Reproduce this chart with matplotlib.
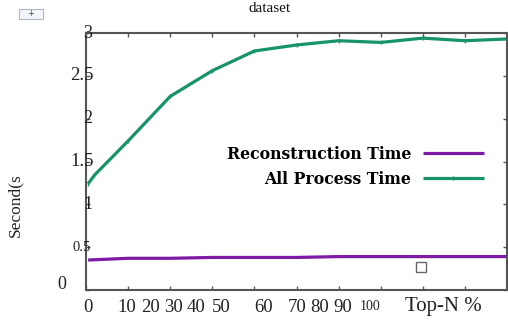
import matplotlib
matplotlib.use("Agg")
import matplotlib.pyplot as plt
from matplotlib.patches import Rectangle
import matplotlib.transforms as mtransforms

# ---- data ----
x_all = [0.5, 2, 10, 20, 30, 40, 50, 60, 70, 80, 90, 100]
all_process = [1.24, 1.34, 1.74, 2.26, 2.56, 2.79, 2.86, 2.91, 2.89, 2.94, 2.91, 2.93]
x_rec = [0.5, 10, 20, 30, 40, 50, 60, 70, 80, 90, 100]
reconstruction = [0.35, 0.37, 0.37, 0.38, 0.38, 0.38, 0.39, 0.39, 0.39, 0.39, 0.39]
x_tick_vals = [0, 10, 20, 30, 40, 50, 60, 70, 80, 90, 100]
x_tick_labels = ["0", "10", "20", "30", "40", "50", "60", "70", "80", "90", "100"]
y_tick_vals = [0, 0.5, 1, 1.5, 2, 2.5, 3]
y_tick_labels = ["0", "0.5", "1", "1.5", "2", "2.5", "3"]
series_names = ["Reconstruction Time", "All Process Time"]

GREEN = "#17936a"
PURPLE = "#7d1aa6"
SPINE = "#555555"
SERIF = ["Liberation Serif", "DejaVu Serif"]

W, H = 508, 324
fig = plt.figure(figsize=(W / 100, H / 100), dpi=100)
fig.patch.set_facecolor("white")
ax = fig.add_axes([86 / W, 1 - 290 / H, (507 - 86) / W, (290 - 33) / H])

ax.plot(x_rec, reconstruction, color=PURPLE, lw=2.3, label=series_names[0],
        solid_capstyle="butt")
ax.plot(x_all, all_process, color=GREEN, lw=2.3, label=series_names[1],
        marker="|", markersize=3, markeredgewidth=1, solid_capstyle="butt")
ax.plot([79.5], [0.27], marker="s", markersize=7, mfc="white", mec="#666666",
        mew=1, ls="none")

ax.set_xlim(0, 100)
ax.set_ylim(0, 3)
for s in ax.spines.values():
    s.set_color(SPINE)
    s.set_linewidth(1.5)

ax.set_xticks(x_tick_vals)
ax.set_yticks(y_tick_vals)
ax.tick_params(axis="both", direction="in", length=3, width=1, color=SPINE,
               labelbottom=False, labelleft=False, top=True, right=True)

# x tick labels (placed as in reference, compressed)
xlab_px = [88, 127, 150, 173, 196, 221, 264, 297, 320, 343, 370]
for lbl, px in zip(x_tick_labels, xlab_px):
    fs = 10 if lbl == "100" else 13.5
    fig.text(px / W, 1 - 307 / H, lbl, ha="center", va="center",
             fontsize=fs, family=SERIF, color="#222222")
fig.text(443 / W, 1 - 306 / H, "Top-N %", ha="center", va="center",
         fontsize=15, family=SERIF, color="#222222")

# y tick labels
trans = mtransforms.blended_transform_factory(fig.transFigure, ax.transData)
ylab = {"0": (62, 13, "center"), "0.5": (91, 10.5, "right"),
        "1": (88, 13, "center"), "1.5": (94, 13.5, "right"),
        "2": (88, 13, "center"), "2.5": (94, 13.5, "right"),
        "3": (88, 13, "center")}
for v, lbl in zip(y_tick_vals, y_tick_labels):
    px, fs, ha = ylab[lbl]
    dy = 0.06 if lbl in ("0",) else 0.0
    ax.text(px / W, v + dy, lbl, transform=trans, ha=ha, va="center",
            fontsize=fs, family=SERIF, color="#222222", clip_on=False)

fig.text(15 / W, 1 - 205 / H, "Second(s", rotation=90, ha="center",
         va="center", fontsize=12.5, family=SERIF, color="#222222")

leg = ax.legend(loc="upper right", bbox_to_anchor=(495 / W, 1 - 135 / H),
                bbox_transform=fig.transFigure, frameon=False,
                markerfirst=False, handlelength=3.9, labelspacing=0.5,
                handletextpad=0.75, borderpad=0.2,
                prop={"family": ["DejaVu Serif"], "weight": "bold", "size": 11.3})

# title, near the top edge
fig.text(270 / W, 1 - 2 / H, "dataset", ha="center", va="top",
         fontsize=11, family=SERIF, color="#111111")

# small icon at top-left
fig.patches.append(Rectangle((19 / W, 1 - 19 / H), 24 / W, 10 / H,
                             transform=fig.transFigure, facecolor="#f4f6fa",
                             edgecolor="#b0b8c8", lw=0.8))
fig.text(31 / W, 1 - 14 / H, "+", ha="center", va="center", fontsize=6,
         color="#445")

fig.savefig("out.png", dpi=100, facecolor="white")
